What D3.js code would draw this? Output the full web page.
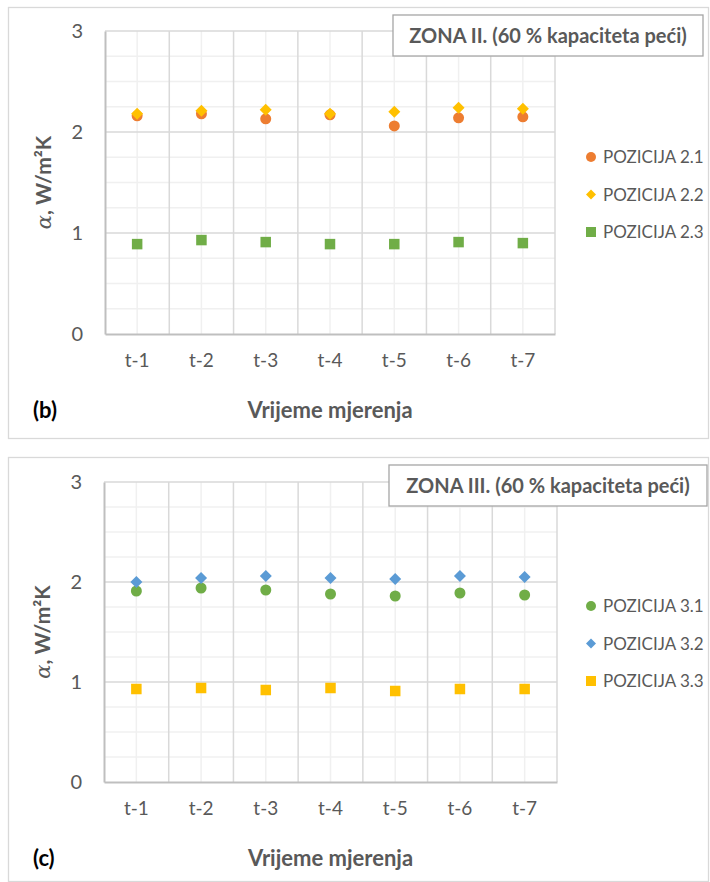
<!DOCTYPE html>
<html><head><meta charset="utf-8">
<script src="https://cdn.jsdelivr.net/npm/d3@7"></script>
<style>
body{margin:0;background:#fff;}
text{font-family:Lato,"Open Sans",sans-serif;fill:#595959;}
</style></head>
<body>
<script>
const categories = ["t-1","t-2","t-3","t-4","t-5","t-6","t-7"];
const yTicks = [0,1,2,3];

const zona2Title = "ZONA II. (60 % kapaciteta peći)";
const zona2Names = ["POZICIJA 2.1","POZICIJA 2.2","POZICIJA 2.3"];
const poz21 = [2.16,2.18,2.13,2.17,2.06,2.14,2.15];
const poz22 = [2.18,2.21,2.22,2.18,2.20,2.24,2.23];
const poz23 = [0.89,0.93,0.91,0.89,0.89,0.91,0.90];

const zona3Title = "ZONA III. (60 % kapaciteta peći)";
const zona3Names = ["POZICIJA 3.1","POZICIJA 3.2","POZICIJA 3.3"];
const poz31 = [1.91,1.94,1.92,1.88,1.86,1.89,1.87];
const poz32 = [2.00,2.04,2.06,2.04,2.03,2.06,2.05];
const poz33 = [0.93,0.94,0.92,0.94,0.91,0.93,0.93];

const W = 710, H = 882;
const svg = d3.select("body").append("svg").attr("width",W).attr("height",H);

function marker(g, shape, color, size){
  if(shape==="circle"){
    g.append("circle").attr("r",size/2).attr("fill",color);
  } else if(shape==="diamond"){
    const s=size/2;
    g.append("path").attr("d",`M0,${-s}L${s},0L0,${s}L${-s},0Z`).attr("fill",color);
  } else {
    g.append("rect").attr("x",-size/2).attr("y",-size/2).attr("width",size).attr("height",size).attr("fill",color);
  }
}

function panel(cfg){
  const {box, plot, title, titleBox, label, series, legendX, legendY, legendGap} = cfg;
  const g = svg.append("g");
  g.append("rect").attr("x",box[0]+0.5).attr("y",box[1]+0.5).attr("width",box[2]).attr("height",box[3])
    .attr("fill","#fff").attr("stroke","#d9d9d9").attr("stroke-width",1.3);

  const x = d3.scaleBand().domain(categories).range([plot.x0, plot.x1]).padding(0);
  const y = d3.scaleLinear().domain([0,3]).range([plot.y1, plot.y0]);

  const minor = d3.range(0,3.001,0.25).filter(v=>Math.abs(v-Math.round(v))>1e-6);
  g.selectAll(".hmin").data(minor).join("line")
    .attr("x1",plot.x0).attr("x2",plot.x1).attr("y1",d=>y(d)).attr("y2",d=>y(d))
    .attr("stroke","#f0f0f0").attr("stroke-width",1.5);
  g.selectAll(".vmin").data(categories).join("line")
    .attr("x1",d=>x(d)+x.bandwidth()/2).attr("x2",d=>x(d)+x.bandwidth()/2)
    .attr("y1",plot.y0).attr("y2",plot.y1)
    .attr("stroke","#f0f0f0").attr("stroke-width",1.5);
  g.selectAll(".hmaj").data(yTicks.slice(1)).join("line")
    .attr("x1",plot.x0).attr("x2",plot.x1).attr("y1",d=>y(d)).attr("y2",d=>y(d))
    .attr("stroke","#d9d9d9").attr("stroke-width",1.5);
  g.selectAll(".vmaj").data(categories.slice(1).concat(["end"])).join("line")
    .attr("x1",d=>d==="end"?plot.x1:x(d)).attr("x2",d=>d==="end"?plot.x1:x(d))
    .attr("y1",plot.y0).attr("y2",plot.y1)
    .attr("stroke","#d9d9d9").attr("stroke-width",1.5);

  const ya = d3.axisLeft(y).tickValues(yTicks).tickSize(0).tickPadding(22).tickFormat(d3.format("d"));
  const yg = g.append("g").attr("transform",`translate(${plot.x0},0)`).call(ya);
  yg.select(".domain").attr("stroke","#bfbfbf").attr("stroke-width",2);
  yg.selectAll("text").attr("font-size",20).attr("fill","#595959").style("font-family","Lato");
  const xa = d3.axisBottom(x).tickSize(0).tickPadding(20);
  const xg = g.append("g").attr("transform",`translate(0,${plot.y1})`).call(xa);
  xg.select(".domain").attr("stroke","#bfbfbf").attr("stroke-width",2);
  xg.selectAll("text").attr("font-size",19).attr("fill","#595959").style("font-family","Lato");

  series.forEach(s=>{
    const sg = g.append("g");
    s.values.forEach((v,i)=>{
      const mg = sg.append("g").attr("transform",`translate(${x(categories[i])+x.bandwidth()/2},${y(v)})`);
      marker(mg, s.shape, s.color, s.size);
    });
  });

  const cy = (plot.y0+plot.y1)/2;
  const yt = g.append("text").attr("transform",`translate(${plot.x0-54},${cy}) rotate(-90)`)
    .attr("text-anchor","middle").attr("font-size",21);
  yt.append("tspan").text("α").attr("font-style","italic").style("font-family","'DejaVu Serif',serif").attr("font-size",21);
  yt.append("tspan").text(", W/m²K").attr("font-weight","bold");

  g.append("text").attr("x",(plot.x0+plot.x1)/2).attr("y",plot.y1+84).attr("text-anchor","middle")
    .attr("font-size",22).attr("font-weight","bold").text("Vrijeme mjerenja");
  g.append("text").attr("x",box[0]+25).attr("y",plot.y1+84)
    .attr("font-size",22).attr("font-weight","bold").style("fill","#000").text(label);

  g.append("rect").attr("x",titleBox[0]).attr("y",titleBox[1]).attr("width",titleBox[2]).attr("height",titleBox[3])
    .attr("fill","#fff").attr("stroke","#a6a6a6").attr("stroke-width",1.3);
  g.append("text").attr("x",titleBox[0]+titleBox[2]/2).attr("y",titleBox[1]+titleBox[3]/2+7)
    .attr("text-anchor","middle").attr("font-size",20).attr("font-weight","bold").text(title);

  series.forEach((s,i)=>{
    const ly = legendY + i*legendGap;
    const mg = g.append("g").attr("transform",`translate(${legendX},${ly})`);
    marker(mg, s.shape, s.color, s.legSize);
    g.append("text").attr("x",legendX+12).attr("y",ly+6).attr("font-size",17).text(s.name);
  });
}

panel({
  box:[8,7,700,431],
  plot:{x0:105,x1:555,y0:31,y1:334},
  title:zona2Title, titleBox:[393,15,310,41], label:"(b)",
  legendX:591, legendY:157, legendGap:37.5,
  series:[
    {name:zona2Names[0], values:poz21, shape:"circle", color:"#ED7D31", size:11, legSize:10},
    {name:zona2Names[1], values:poz22, shape:"diamond", color:"#FFC000", size:12, legSize:10},
    {name:zona2Names[2], values:poz23, shape:"square", color:"#70AD47", size:10.5, legSize:10}
  ]
});
panel({
  box:[8,457,700,424],
  plot:{x0:104,x1:557,y0:482,y1:782},
  title:zona3Title, titleBox:[389,465,318,41], label:"(c)",
  legendX:591, legendY:606, legendGap:37.5,
  series:[
    {name:zona3Names[0], values:poz31, shape:"circle", color:"#70AD47", size:11, legSize:10},
    {name:zona3Names[1], values:poz32, shape:"diamond", color:"#5B9BD5", size:12, legSize:10},
    {name:zona3Names[2], values:poz33, shape:"square", color:"#FFC000", size:10.5, legSize:10}
  ]
});
</script>
</body></html>
